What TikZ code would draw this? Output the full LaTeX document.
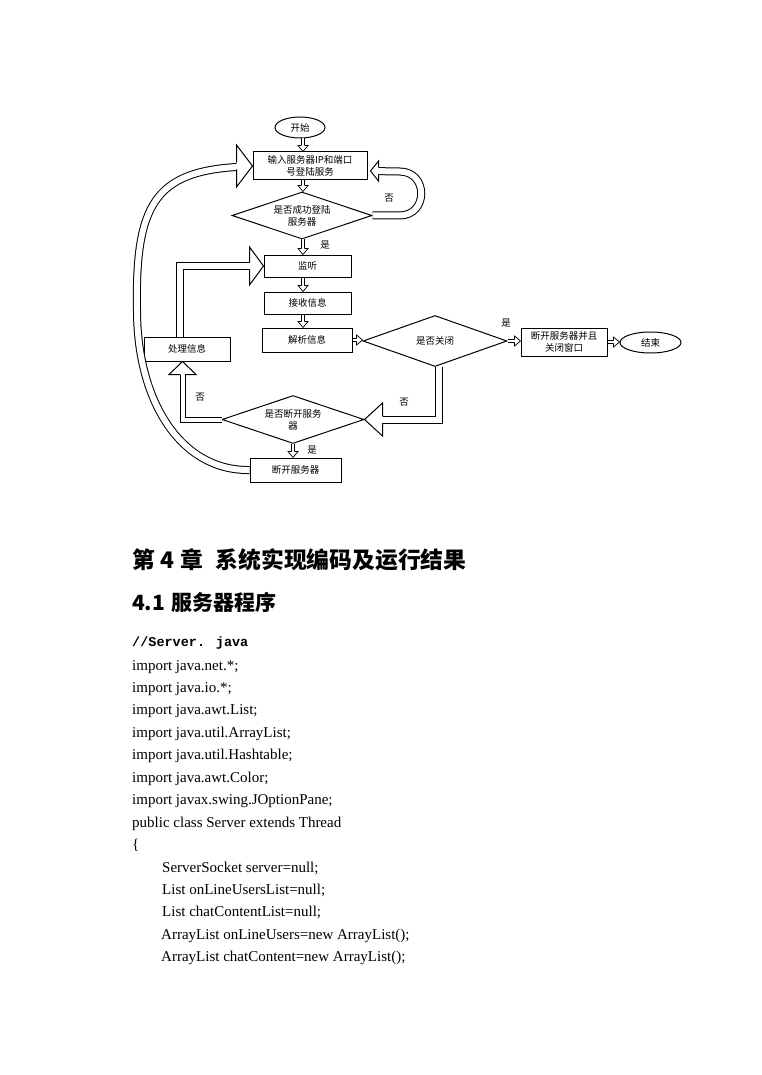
\documentclass[tikz,border=0pt]{standalone}
\usepackage{fontspec}
\setmainfont{Liberation Serif}
\newfontfamily\cjk{Noto Sans CJK SC}
\newfontfamily\monof{Liberation Mono}
\usetikzlibrary{shapes.geometric,calc}
\newcommand{\fc}{\cjk\fontsize{9.5}{12}\selectfont}
% hollow arrow head: tip, angle, length, half width, shaft half width, line width
\newcommand{\hhead}[6]{%
  \fill[white,shift={(#1)},rotate=#2] (0,0) -- (-#3,#4) -- (-#3,-#4) -- cycle;
  \draw[line width=#6,line join=miter,shift={(#1)},rotate=#2] (-#3,#5) -- (-#3,#4) -- (0,0) -- (-#3,-#4) -- (-#3,-#5);
}
\begin{document}
\begin{tikzpicture}[x=1pt,y=-1pt,
  box/.style={draw, line width=1pt, inner sep=0pt, align=center, font=\fc},
  dia/.style={draw, diamond, shape aspect=2.9, line width=1pt, inner sep=0pt, align=center, font=\fc},
  ell/.style={draw, ellipse, line width=1pt, inner sep=0pt, font=\fc},
  bshaft/.style={double=white, double distance=6pt, line width=1pt, line join=miter},
  mshaft/.style={double=white, double distance=4pt, line width=1pt, line join=miter},
  sshaft/.style={double=white, double distance=2.6pt, line width=0.7pt},
  lab/.style={font=\fc, inner sep=0pt},
  code/.style={anchor=base west, inner sep=0pt, font=\fontsize{15}{18}\selectfont}
]
\fill[white] (0,0) rectangle (761,1075);
\useasboundingbox (0,0) rectangle (761,1075);

% ---------- nodes ----------
\node[ell, minimum width=50pt, minimum height=21pt] (start) at (300,127.5) {开始};
\node[box, minimum width=114pt, minimum height=28pt] (shuru) at (310,166) {输入服务器IP和端口\\号登陆服务};
\node[dia, minimum width=140pt, minimum height=47pt] (d1) at (302,215.5) {是否成功登陆\\服务器};
\node[box, minimum width=87pt, minimum height=22pt] (listen) at (307.5,266) {监听};
\node[box, minimum width=87pt, minimum height=22pt] (recv) at (307.5,303) {接收信息};
\node[box, minimum width=90pt, minimum height=24pt] (parse) at (307,340) {解析信息};
\node[dia, minimum width=144pt, minimum height=51pt] (d2) at (435,341) {是否关闭};
\node[box, minimum width=86pt, minimum height=28pt] (close) at (564,342) {断开服务器并且\\关闭窗口};
\node[ell, minimum width=61pt, minimum height=21pt] (end) at (650.5,342.5) {结束};
\node[box, minimum width=86pt, minimum height=24pt] (chuli) at (187,349) {处理信息};
\node[dia, minimum width=142pt, minimum height=48pt] (d3) at (293,419.5) {是否断开服务\\器};
\node[box, minimum width=91pt, minimum height=24pt] (disc) at (295.5,470) {断开服务器};

\coordinate (colx) at (303,0);
\coordinate (v1) at (180,0);
\coordinate (v2) at (438.5,0);
\coordinate (v3) at (182.5,0);

% ---------- small hollow arrows ----------
\draw[sshaft, shorten >=5.5pt] (start.south -| colx) -- (shuru.north -| colx);
\hhead{shuru.north -| colx}{-90}{6}{5}{1.65}{0.7pt}
\draw[sshaft, shorten >=5.5pt] (shuru.south -| colx) -- (d1.north -| colx);
\hhead{d1.north -| colx}{-90}{6}{5}{1.65}{0.7pt}
\draw[sshaft, shorten >=5.5pt] (d1.south -| colx) -- (listen.north -| colx);
\hhead{listen.north -| colx}{-90}{6}{5}{1.65}{0.7pt}
\draw[sshaft, shorten >=5.5pt] (listen.south -| colx) -- (recv.north -| colx);
\hhead{recv.north -| colx}{-90}{6}{5}{1.65}{0.7pt}
\draw[sshaft, shorten >=5.5pt] (recv.south -| colx) -- (parse.north -| colx);
\hhead{parse.north -| colx}{-90}{6}{5}{1.65}{0.7pt}
\draw[sshaft, shorten >=5.5pt] (parse.east) -- (parse.east -| d2.west);
\hhead{parse.east -| d2.west}{0}{6}{5}{1.65}{0.7pt}
\draw[sshaft, shorten >=5.5pt] (d2.east) -- (d2.east -| close.west);
\hhead{d2.east -| close.west}{0}{6}{5}{1.65}{0.7pt}
\draw[sshaft, shorten >=5.5pt] (close.east) -- (close.east -| end.west);
\hhead{close.east -| end.west}{0}{6}{5}{1.65}{0.7pt}
\draw[sshaft, shorten >=5.5pt] (d3.south) -- (disc.north -| d3.south);
\hhead{disc.north -| d3.south}{-90}{6}{5}{1.65}{0.7pt}

% ---------- big hollow arrows ----------
% loop back on failure
\draw[bshaft, shorten >=7.5pt] (d1.east) -- ($(d1.east)+(27,0)$)
  .. controls ($(d1.east)+(56,0)$) and ($(d1.east)+(56,-44)$) .. ($(d1.east)+(27,-44)$)
  -- ($(shuru.east)+(3,5)$);
\hhead{$(shuru.east)+(3,5)$}{180}{8}{10}{3.5}{1pt}
% process -> listen
\draw[bshaft, shorten >=13.5pt] (chuli.north -| v1) |- (listen.west);
\hhead{listen.west}{0}{14}{19}{3.5}{1pt}
% not closed -> disconnect?
\draw[bshaft, shorten >=17.5pt] (d2.south -| v2) |- (d3.east);
\hhead{d3.east}{180}{18}{16.5}{3.5}{1pt}
% not disconnect -> process
\draw[mshaft, shorten >=12.5pt] (d3.west) -| (chuli.south -| v3);
\hhead{chuli.south -| v3}{90}{13}{13.5}{2.5}{1pt}
% disconnect -> back to login
\draw[bshaft, shorten >=15.5pt] (disc.west) .. controls (180,471) and (137,400) .. (137,310)
  .. controls (135,205) and (155,172) .. (shuru.west);
\hhead{shuru.west}{0}{16}{21}{3.5}{1pt}

% ---------- labels ----------
\node[lab] (lno1) at (389,198) {否};
\node[lab] (lyes1) at (325,245) {是};
\node[lab] (lyes2) at (506,323) {是};
\node[lab] (lno2) at (404,402) {否};
\node[lab] (lno3) at (200,397) {否};
\node[lab] (lyes3) at (312,450) {是};

% ---------- text ----------
\node[anchor=base west, inner sep=0pt, font=\cjk\bfseries\fontsize{22.8}{27}\selectfont] (h1) at (132,568.5)
  {第\hspace{6pt}4\hspace{6pt}章\hspace{12pt}系统实现编码及运行结果};
\node[anchor=base west, inner sep=0pt, font=\cjk\bfseries\fontsize{21}{25}\selectfont] (h2) at (132,610)
  {4.1\hspace{6pt}服务器程序};
\node[code, font=\monof\bfseries\fontsize{13.5}{16}\selectfont] (c0) at (132,646) {//Server. java};
\node[code] (c1) at (132,670) {import java.net.*;};
\node[code] (c2) at (132,692.45) {import java.io.*;};
\node[code] (c3) at (132,714.9) {import java.awt.List;};
\node[code] (c4) at (132,737.35) {import java.util.ArrayList;};
\node[code] (c5) at (132,759.8) {import java.util.Hashtable;};
\node[code] (c6) at (132,782.25) {import java.awt.Color;};
\node[code] (c7) at (132,804.7) {import javax.swing.JOptionPane;};
\node[code] (c8) at (132,827.15) {public class Server extends Thread};
\node[code] (c9) at (132,849.6) {\{};
\node[code] (c10) at (162,872.05) {ServerSocket server=null;};
\node[code] (c11) at (162,894.5) {List onLineUsersList=null;};
\node[code] (c12) at (162,916.95) {List chatContentList=null;};
\node[code] (c13) at (161,939.4) {ArrayList onLineUsers=new ArrayList();};
\node[code] (c14) at (161,961.85) {ArrayList chatContent=new ArrayList();};
\end{tikzpicture}
\end{document}
